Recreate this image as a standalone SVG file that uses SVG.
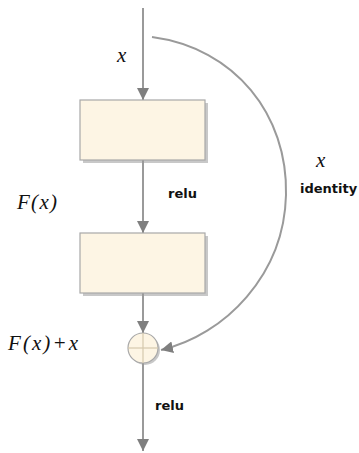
<svg xmlns="http://www.w3.org/2000/svg" width="359" height="453" viewBox="0 0 359 453">
<style>
.ln{stroke:#9a9a9a;stroke-width:2;fill:none}
.box{fill:#fdf5e4;stroke:#a8a8a8;stroke-width:1.2}
.sh{fill:#9a9a9a;opacity:0.55}
.math{font-family:"Liberation Serif",serif;font-style:italic;font-size:21px;fill:#111}
.lbl{font-family:"DejaVu Sans","Liberation Sans",sans-serif;font-weight:bold;font-size:13px;fill:#111}
</style>
<defs>
<marker id="ah2" viewBox="0 0 10 10" refX="10" refY="5" markerWidth="12" markerHeight="12" markerUnits="userSpaceOnUse" orient="auto">
<path d="M0,0 L10,5 L0,10 z" fill="#7f7f7f"/>
</marker>
</defs>
<g id="connectors">
<line class="ln" x1="143" y1="8" x2="143" y2="100" marker-end="url(#ah2)"/>
<line class="ln" x1="143" y1="160" x2="143" y2="233" marker-end="url(#ah2)"/>
<line class="ln" x1="143" y1="293" x2="143" y2="333" marker-end="url(#ah2)"/>
<line class="ln" x1="143" y1="363" x2="143" y2="451" marker-end="url(#ah2)"/>
<path class="ln" d="M152,37 C235,48 288,115 286,195 C284,275 225,335 161,350" marker-end="url(#ah2)" stroke-width="1.6"/>
</g>
<g id="box1">
<rect class="sh" x="83" y="103" width="125" height="60"/>
<rect class="box" x="80" y="100" width="125" height="60"/>
</g>
<g id="box2">
<rect class="sh" x="83" y="236" width="125" height="60"/>
<rect class="box" x="80" y="233" width="125" height="60"/>
</g>
<g id="sum">
<circle cx="145" cy="350" r="15" fill="#9a9a9a" opacity="0.55"/>
<circle cx="143" cy="348" r="15" fill="#fdf5e4" stroke="#a8a8a8" stroke-width="1.2"/>
<line x1="128" y1="348" x2="158" y2="348" stroke="#d6c9ae" stroke-width="1.2"/>
<line x1="143" y1="333" x2="143" y2="363" stroke="#d6c9ae" stroke-width="1.2"/>
</g>
<g id="labels">
<text class="math" x="117" y="62">x</text>
<text class="lbl" x="168" y="198">relu</text>
<text class="lbl" x="155" y="410">relu</text>
<text class="math" x="17" y="209" textLength="40">F(x)</text>
<text class="math" x="8" y="350" textLength="70">F(x)+x</text>
<text class="math" x="316" y="167">x</text>
<text class="lbl" x="300" y="193">identity</text>
</g>
</svg>
